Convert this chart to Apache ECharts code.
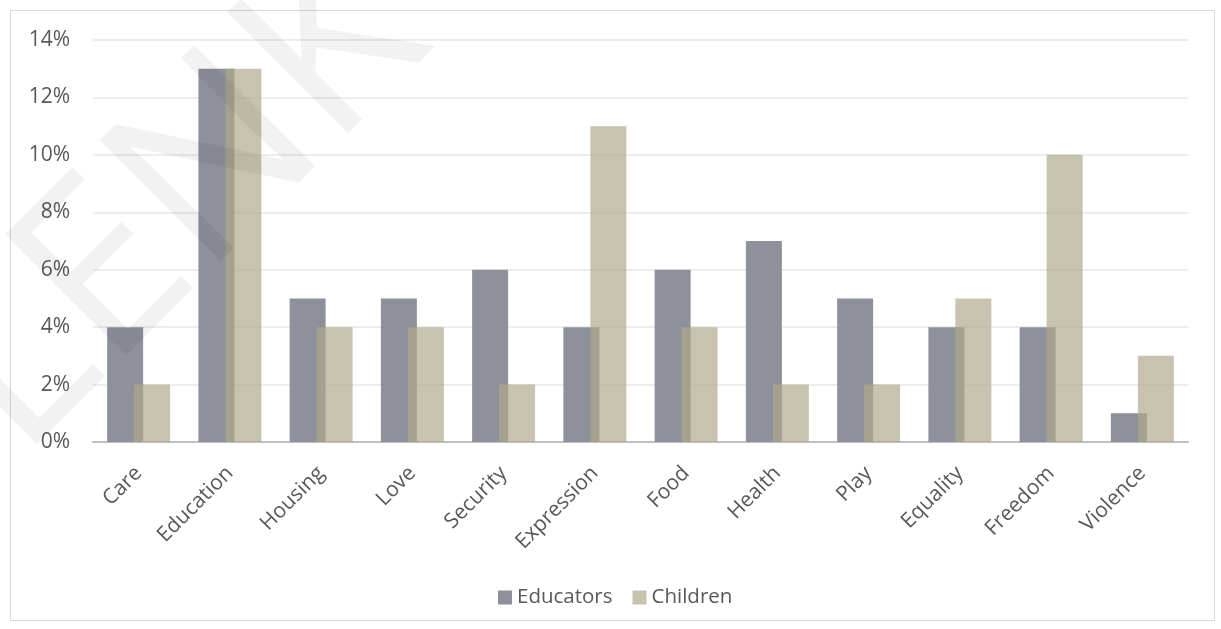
<!DOCTYPE html>
<html>
<head>
<meta charset="utf-8">
<script src="https://cdn.jsdelivr.net/npm/echarts@6/dist/echarts.min.js"></script>
<style>
html,body{margin:0;padding:0;background:#fff;}
#c{width:1221px;height:629px;}
</style>
</head>
<body>
<div id="c"></div>
<script>
const categories = ["Care","Education","Housing","Love","Security","Expression","Food","Health","Play","Equality","Freedom","Violence"];
const educators = [4,13,5,5,6,4,6,7,5,4,4,1];
const children = [2,13,4,4,2,11,4,2,2,5,10,3];
const yTicks = [0,2,4,6,8,10,12,14];

const chart = echarts.init(document.getElementById('c'));
const font = '"Open Sans", sans-serif';
chart.setOption({
  backgroundColor: '#fff',
  animation: false,
  graphic: [
    {type:'rect', shape:{x:10.5,y:10.5,width:1204,height:610}, style:{fill:'none', stroke:'#d9d9d9', lineWidth:1}, z:-10},
    {type:'text', x:180, y:205, rotation:Math.PI/4, z:100,
      style:{text:'LENK', fontSize:240, fontFamily:font, fill:'rgba(0,0,0,0.05)', align:'center', verticalAlign:'middle'}}
  ],
  grid: {left:93, right:33, top:40, bottom:187, containLabel:false},
  legend: {
    bottom: 16, left: 493,
    itemWidth: 14, itemHeight: 14, itemGap: 20,
    icon: 'rect',
    textStyle: {fontFamily:font, fontSize:20.5, color:'#595959'},
    data: ['Educators','Children']
  },
  xAxis: {
    type:'category', data: categories,
    axisLine:{lineStyle:{color:'#bfbfbf', width:2}},
    axisTick:{show:false},
    axisLabel:{rotate:45, interval:0, margin:28, fontFamily:font, fontSize:21, color:'#595959'}
  },
  yAxis: {
    type:'value', min:0, max:14, interval:2,
    axisLine:{show:false}, axisTick:{show:false},
    splitLine:{lineStyle:{color:'#ededed', width:2}},
    axisLabel:{margin:23, fontFamily:font, fontSize:21, color:'#595959', formatter: v => v + '%'}
  },
  series: [
    {name:'Educators', type:'bar', data: educators, barGap:'-25%', barCategoryGap:'31%',
      itemStyle:{color:'#8e919b'}},
    {name:'Children', type:'bar', data: children,
      itemStyle:{color:'rgba(175,168,138,0.69)'}}
  ]
});
</script>
</body>
</html>
